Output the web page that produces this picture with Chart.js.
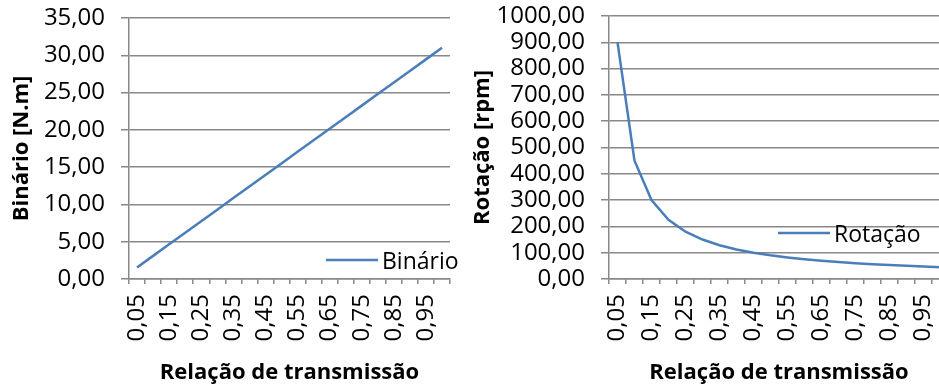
<!DOCTYPE html>
<html>
<head>
<meta charset="utf-8">
<script src="https://cdn.jsdelivr.net/npm/chart.js@4"></script>
<style>
  html, body { margin: 0; padding: 0; background: #fff; overflow: hidden; width: 939px; height: 387px; }
  .box { position: absolute; top: 0; height: 387px; }
  #boxA { left: 0; width: 470px; }
  #boxB { left: 470px; width: 490px; }
</style>
</head>
<body>
<div class="box" id="boxA"><canvas id="binario" width="470" height="387"></canvas></div>
<div class="box" id="boxB"><canvas id="rotacao" width="490" height="387"></canvas></div>
<script>
// Transmission ratio categories
const relacao = ['0,05','0,10','0,15','0,20','0,25','0,30','0,35','0,40','0,45','0,50',
                 '0,55','0,60','0,65','0,70','0,75','0,80','0,85','0,90','0,95','1,00'];
// Torque [N.m]
const binario = [1.55, 3.10, 4.65, 6.20, 7.75, 9.30, 10.85, 12.40, 13.95, 15.50,
                 17.05, 18.60, 20.15, 21.70, 23.25, 24.80, 26.35, 27.90, 29.45, 31.00];
// Rotation speed [rpm]
const rotacao = [900.00, 450.00, 300.00, 225.00, 180.00, 150.00, 128.57, 112.50, 100.00, 90.00,
                 81.82, 75.00, 69.23, 64.29, 60.00, 56.25, 52.94, 50.00, 47.37, 45.00];

const LINE = '#4a7ebb';
const GRID = '#888888';
const FONT = 'Open Sans';

const fmt = v => Number(v).toFixed(2).replace('.', ',');

// Legend drawn inside the plot area: a line sample followed by the series name
function insideLegend(cfg) {
  return {
    id: 'insideLegend',
    afterDraw(chart) {
      const ctx = chart.ctx;
      const ds = chart.data.datasets[0];
      ctx.save();
      ctx.strokeStyle = ds.borderColor;
      ctx.lineWidth = 2.5;
      ctx.beginPath();
      ctx.moveTo(cfg.x1, cfg.y);
      ctx.lineTo(cfg.x2, cfg.y);
      ctx.stroke();
      ctx.fillStyle = '#000';
      ctx.font = '23px "' + FONT + '"';
      ctx.textBaseline = 'middle';
      ctx.textAlign = 'left';
      ctx.fillText(ds.label, cfg.x2 + 4, cfg.y + 2);
      ctx.restore();
    }
  };
}

function makeChart(id, opts) {
  return new Chart(document.getElementById(id), {
    type: 'line',
    data: {
      labels: relacao,
      datasets: [{
        label: opts.label,
        data: opts.data,
        borderColor: LINE,
        borderWidth: 2.5,
        pointRadius: 0,
        tension: 0,
        fill: false
      }]
    },
    options: {
      responsive: false,
      animation: false,
      devicePixelRatio: 1,
      layout: { padding: { left: 0, top: opts.top, right: opts.right, bottom: 0 } },
      plugins: { legend: { display: false }, tooltip: { enabled: false } },
      scales: {
        x: {
          type: 'category',
          offset: true,
          afterFit(s) { s.height = 108; s.paddingLeft = 0; s.paddingRight = 0; },
          grid: { display: true, drawOnChartArea: false, offset: true, tickLength: 5, color: GRID, lineWidth: 1.5 },
          border: { display: true, color: GRID, width: 1.5 },
          ticks: {
            autoSkip: false, maxRotation: 90, minRotation: 90, padding: 10,
            color: '#000', font: { family: FONT, size: 24 },
            callback(v, i) { return i % 2 === 0 ? this.getLabelForValue(v) : ''; }
          },
          title: {
            display: true, text: 'Relação de transmissão', color: '#000',
            font: { family: FONT, size: 22, weight: 'bold' }, padding: { top: 0, bottom: 1 }
          }
        },
        y: {
          min: 0, max: opts.max,
          afterFit(s) { s.width = opts.axisW; s.paddingTop = 0; s.paddingBottom = 0; },
          grid: { display: true, drawOnChartArea: true, tickLength: 8, color: GRID, lineWidth: 1.5 },
          border: { display: true, color: GRID, width: 1.5 },
          ticks: {
            stepSize: opts.step, autoSkip: false, padding: 16, color: '#000',
            font: { family: FONT, size: 24 },
            callback: v => fmt(v)
          },
          title: {
            display: true, text: opts.yTitle, color: '#000',
            font: { family: FONT, size: 22, weight: 'bold' }, padding: { top: opts.titlePad, bottom: 0 }
          }
        }
      }
    },
    plugins: [insideLegend(opts.legend)]
  });
}

makeChart('binario', {
  label: 'Binário', data: binario, max: 35, step: 5,
  yTitle: 'Binário [N.m]', axisW: 129, top: 18, right: 20, titlePad: 9,
  legend: { x1: 326, x2: 378, y: 260 }
});

makeChart('rotacao', {
  label: 'Rotação', data: rotacao, max: 1000, step: 100,
  yTitle: 'Rotação [rpm]', axisW: 139, top: 16, right: 11, titlePad: 0,
  legend: { x1: 308, x2: 360, y: 233 }
});
</script>
</body>
</html>
